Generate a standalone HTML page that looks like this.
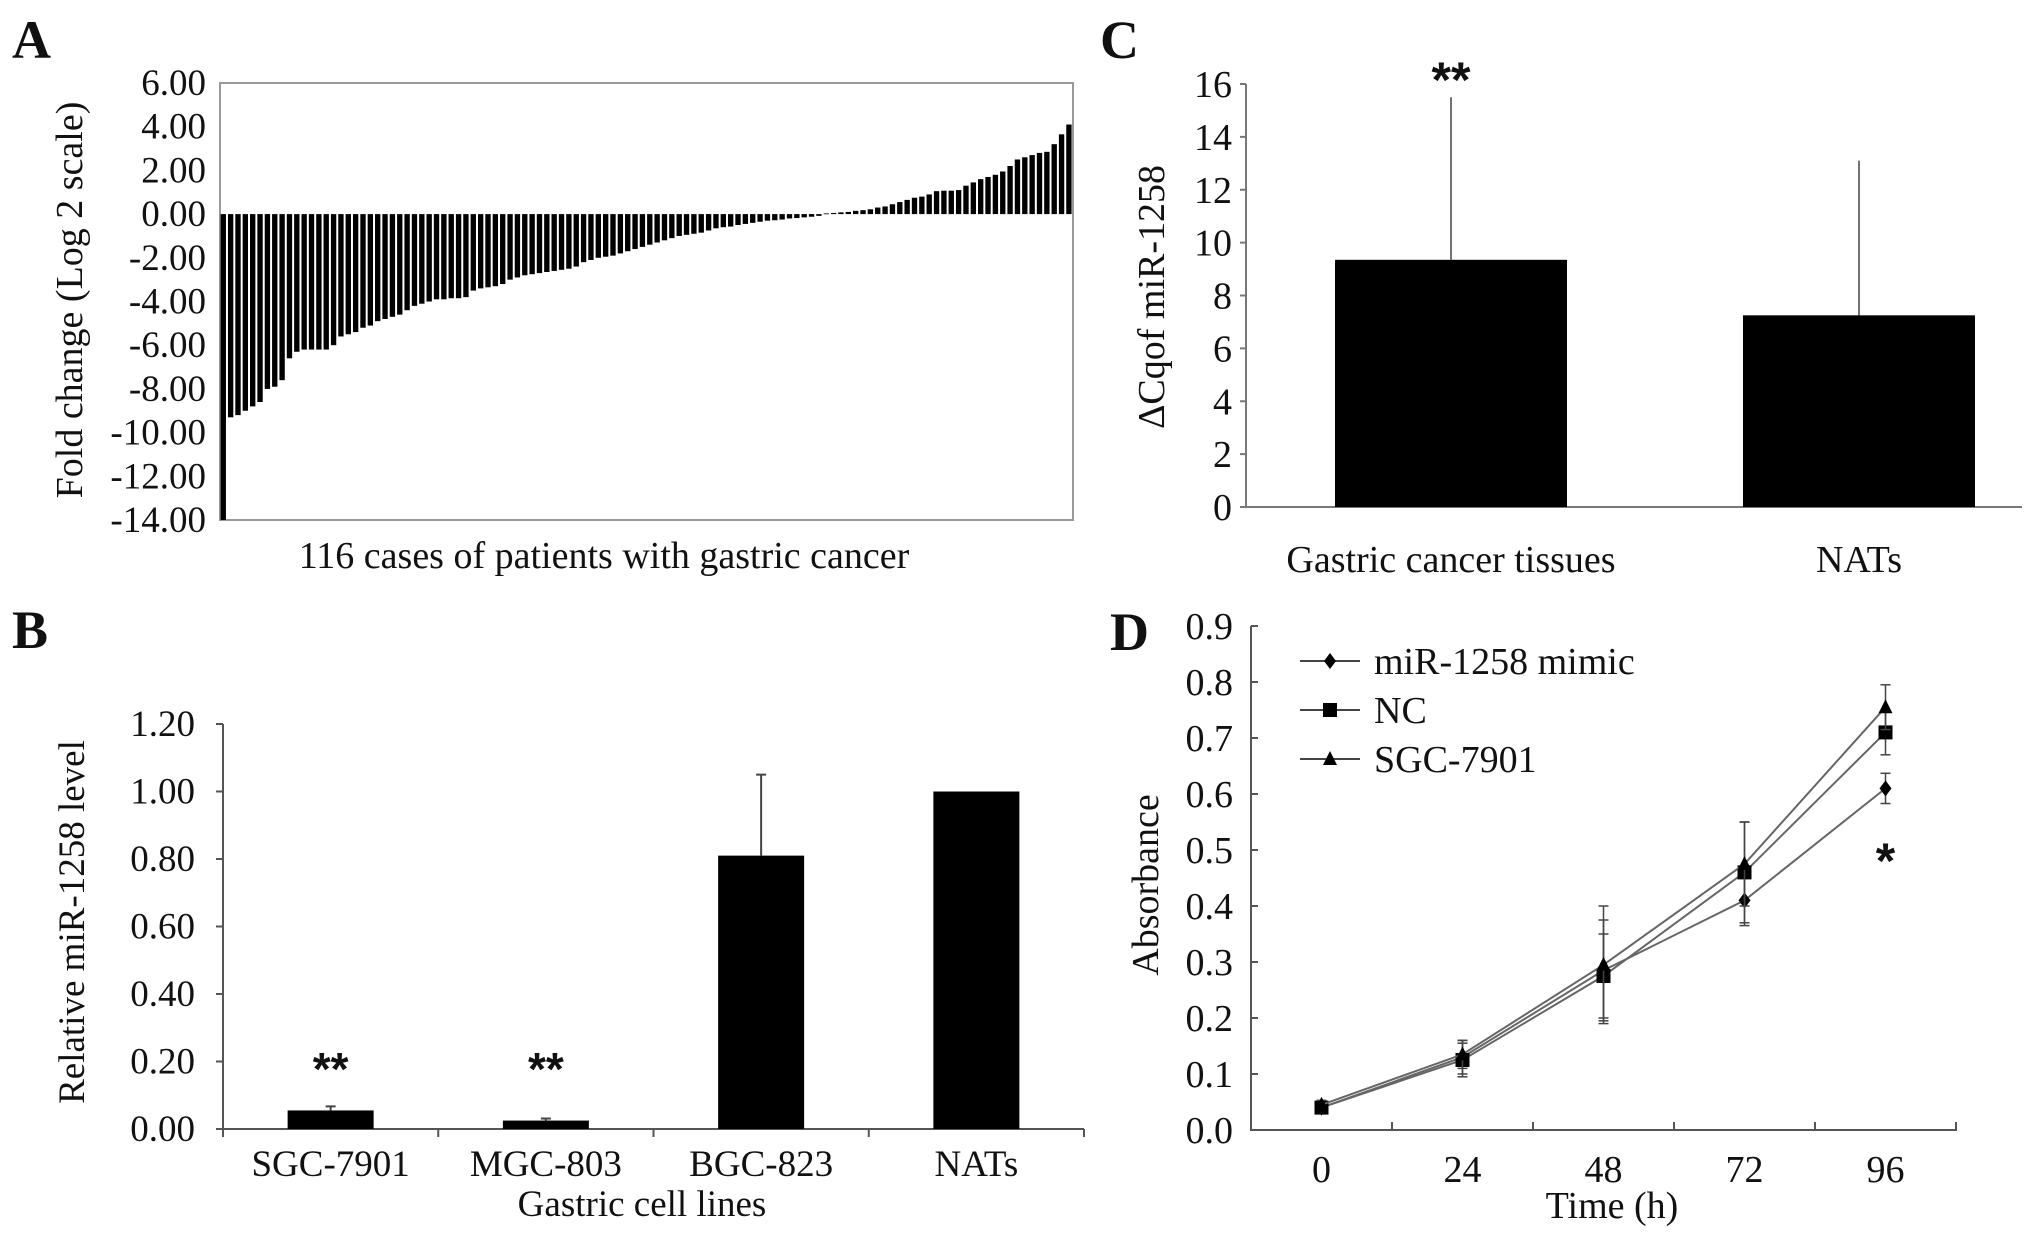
<!DOCTYPE html>
<html><head><meta charset="utf-8">
<style>
html,body{margin:0;padding:0;background:#fff;}
svg{display:block;font-family:"Liberation Serif",serif;}
text{fill:#111;}
</style></head>
<body>
<svg id="fig" width="2031" height="1239" viewBox="0 0 2031 1239" xmlns="http://www.w3.org/2000/svg">
<text x="12" y="58" font-size="54" font-weight="bold">A</text>
<text x="12" y="648" font-size="54" font-weight="bold">B</text>
<text x="1100" y="58" font-size="54" font-weight="bold">C</text>
<text x="1110" y="650" font-size="54" font-weight="bold">D</text>
<g id="pa"></g>
<g id="pb"></g>
<g id="pc"></g>
<g id="pd"></g>
</svg>
<script>
// ---------- Panel A data ----------
const aValues = [-14.0,-9.3,-9.2,-9.0,-8.8,-8.6,-8.0,-7.9,-7.6,
-6.6,-6.3,-6.2,-6.2,-6.2,-6.2,-6.0,
-5.6,-5.5,-5.4,-5.2,
-5.1,-4.9,-4.8,-4.7,
-4.6,-4.4,-4.2,-4.1,-4.0,
-3.9,-3.9,-3.85,-3.85,-3.8,
-3.5,-3.4,-3.35,-3.3,-3.2,
-3.0,-2.9,-2.8,-2.75,-2.7,
-2.65,-2.6,-2.55,-2.5,-2.4,
-2.2,-2.1,-2.0,-1.95,-1.9,
-1.8,-1.7,-1.6,-1.5,-1.4,
-1.3,-1.2,-1.1,-1.0,-0.95,
-0.9,-0.85,-0.75,-0.65,-0.6,
-0.57,-0.5,-0.45,-0.4,-0.35,
-0.3,-0.28,-0.25,-0.2,-0.18,
-0.15,-0.12,-0.08,0.03,0.05,
0.08,0.1,0.15,0.18,0.22,
0.3,0.35,0.45,0.55,0.65,
0.75,0.8,0.9,1.05,1.07,
1.07,1.1,1.3,1.45,1.6,
1.7,1.8,1.95,2.2,2.5,
2.6,2.7,2.8,2.85,3.2,
3.65,4.1];
const aTicks = [6,4,2,0,-2,-4,-6,-8,-10,-12,-14];
const aTickLabels = ["6.00","4.00","2.00","0.00","-2.00","-4.00","-6.00","-8.00","-10.00","-12.00","-14.00"];
// ---------- Panel B data ----------
const bCategories = ["SGC-7901","MGC-803","BGC-823","NATs"];
const bValues = [0.055,0.025,0.81,1.0];
const bErrors = [0.012,0.006,0.24,0];
const bStars = ["**","**","",""];
const bTicks = [0,0.2,0.4,0.6,0.8,1.0,1.2];
const bTickLabels = ["0.00","0.20","0.40","0.60","0.80","1.00","1.20"];
// ---------- Panel C data ----------
const cCategories = ["Gastric cancer tissues","NATs"];
const cValues = [9.35,7.25];
const cErrors = [6.15,5.85];
const cStars = ["**",""];
const cTicks = [0,2,4,6,8,10,12,14,16];
// ---------- Panel D data ----------
const dTimes = ["0","24","48","72","96"];
const dMimic = [0.04,0.13,0.285,0.41,0.61];
const dNC = [0.04,0.125,0.275,0.46,0.71];
const dSGC = [0.045,0.135,0.295,0.475,0.755];
const dMimicErr = [0.008,0.03,0.09,0.045,0.027];
const dNCErr = [0.008,0.03,0.075,0.09,0.04];
const dSGCErr = [0.008,0.025,0.105,0.075,0.04];
const dTicks = [0,0.1,0.2,0.3,0.4,0.5,0.6,0.7,0.8,0.9];
const dTickLabels = ["0.0","0.1","0.2","0.3","0.4","0.5","0.6","0.7","0.8","0.9"];

const NS="http://www.w3.org/2000/svg";
function mk(parent,tag,attrs,txt){const e=document.createElementNS(NS,tag);for(const k in attrs)e.setAttribute(k,attrs[k]);if(txt!==undefined)e.textContent=txt;parent.appendChild(e);return e;}

// ---------- Panel A ----------
(function(){
  const g=document.getElementById('pa');
  const L=220,R=1073,T=83,B=520,vmin=-14,vmax=6;
  const y=v=>T+(vmax-v)/(vmax-vmin)*(B-T);
  const bw=(R-L)/aValues.length;
  const x=i=>L+i*bw;
  let fr=mk(g,'rect',{x:L,y:T,width:R-L,height:B-T,fill:'none',stroke:'#999','stroke-width':2});
  
  
  aValues.forEach((v,i)=>{
    const y0=y(0),y1=y(v);
    const r=mk(g,'rect',{x:x(i)+0.6,y:Math.min(y0,y1),width:bw-2,height:Math.max(Math.abs(y1-y0),0.8),fill:'#000'});
    
    
  });
  aTicks.forEach((t,i)=>{
    const tx=mk(g,'text',{x:206,y:y(t)+12,'font-size':37,'text-anchor':'end'},aTickLabels[i]);
    
    
  });
  const yl=mk(g,'text',{x:0,y:0,'font-size':38,'text-anchor':'middle',transform:'translate(82,300) rotate(-90)'},'Fold change (Log 2 scale)');
  
  
  const xl=mk(g,'text',{x:604,y:568,'font-size':38,'text-anchor':'middle'},'116 cases of patients with gastric cancer');
  
  
})();

// ---------- Panel B ----------
(function(){
  const g=document.getElementById('pb');
  const L=223,R=1084,T=724,B=1129,vmax=1.2;
  const y=v=>B-v/vmax*(B-T);
  const band=(R-L)/bCategories.length;
  let a=mk(g,'path',{d:`M${L} ${T}V${B}H${R}`,fill:'none',stroke:'#555','stroke-width':2});
  
  
  for(let i=0;i<=bCategories.length;i++){mk(g,'line',{x1:L+i*band,x2:L+i*band,y1:B,y2:B+8,stroke:'#555','stroke-width':2});}
  bTicks.forEach((t,i)=>{
    mk(g,'line',{x1:L-7,x2:L,y1:y(t),y2:y(t),stroke:'#555','stroke-width':2});
    const tx=mk(g,'text',{x:195,y:y(t)+12,'font-size':37,'text-anchor':'end'},bTickLabels[i]);
    
    
  });
  bCategories.forEach((c,i)=>{
    const cx=L+band*(i+0.5),w=86;
    const r=mk(g,'rect',{x:cx-w/2,y:y(bValues[i]),width:w,height:B-y(bValues[i]),fill:'#000'});
    
    
    if(bErrors[i]>0){
      const ye=y(bValues[i]+bErrors[i]);
      mk(g,'line',{x1:cx,x2:cx,y1:y(bValues[i]),y2:ye,stroke:'#444','stroke-width':2});
      mk(g,'line',{x1:cx-5,x2:cx+5,y1:ye,y2:ye,stroke:'#444','stroke-width':2});
    }
    if(bStars[i]){
      const s=mk(g,'text',{x:cx,y:1085,'font-size':46,'font-weight':'bold','text-anchor':'middle','font-family':'Liberation Sans, sans-serif'},bStars[i]);
      
      
    }
    const t=mk(g,'text',{x:cx,y:1176,'font-size':37,'text-anchor':'middle'},c);
    
    
  });
  const xl=mk(g,'text',{x:642,y:1216,'font-size':37,'text-anchor':'middle'},'Gastric cell lines');
  
  
  const yl=mk(g,'text',{x:0,y:0,'font-size':37,'text-anchor':'middle',transform:'translate(84,922) rotate(-90)'},'Relative miR-1258 level');
  
  
})();

// ---------- Panel C ----------
(function(){
  const g=document.getElementById('pc');
  const L=1246,R=2022,T=84,B=507,vmax=16;
  const y=v=>B-v/vmax*(B-T);
  const centers=[1451,1859],w=232;
  let a=mk(g,'path',{d:`M${L} ${T}V${B}H${R}`,fill:'none',stroke:'#777','stroke-width':2});
  
  
  cTicks.forEach(t=>{
    mk(g,'line',{x1:L-6,x2:L,y1:y(t),y2:y(t),stroke:'#777','stroke-width':2});
    const tx=mk(g,'text',{x:1232,y:y(t)+13,'font-size':38,'text-anchor':'end'},String(t));
    
    
  });
  cCategories.forEach((c,i)=>{
    const cx=centers[i];
    const r=mk(g,'rect',{x:cx-w/2,y:y(cValues[i]),width:w,height:B-y(cValues[i]),fill:'#000'});
    
    
    mk(g,'line',{x1:cx,x2:cx,y1:y(cValues[i]),y2:y(cValues[i]+cErrors[i]),stroke:'#444','stroke-width':1.5});
    if(cStars[i]){
      const s=mk(g,'text',{x:cx,y:97,'font-size':50,'font-weight':'bold','text-anchor':'middle','font-family':'Liberation Sans, sans-serif'},cStars[i]);
      
      
    }
    const t=mk(g,'text',{x:cx,y:572,'font-size':38,'text-anchor':'middle'},c);
    
    
  });
  const yl=mk(g,'text',{x:0,y:0,'font-size':38,'text-anchor':'middle',transform:'translate(1164,297) rotate(-90)'},'ΔCqof miR-1258');
  
  
})();

// ---------- Panel D ----------
(function(){
  const g=document.getElementById('pd');
  const L=1251,R=1956,T=626,B=1130,vmax=0.9;
  const y=v=>B-v/vmax*(B-T);
  const band=(R-L)/dTimes.length;
  const x=i=>L+band*(i+0.5);
  let a=mk(g,'path',{d:`M${L} ${T}V${B}H${R}V${B-8}`,fill:'none',stroke:'#555','stroke-width':2});
  
  
  for(let i=1;i<dTimes.length;i++){mk(g,'line',{x1:L+i*band,x2:L+i*band,y1:B,y2:B-8,stroke:'#555','stroke-width':2});}
  dTicks.forEach((t,i)=>{
    mk(g,'line',{x1:L,x2:L+7,y1:y(t),y2:y(t),stroke:'#555','stroke-width':2});
    const tx=mk(g,'text',{x:1233,y:y(t)+13,'font-size':38,'text-anchor':'end'},dTickLabels[i]);
    
    
  });
  dTimes.forEach((t,i)=>{
    const tx=mk(g,'text',{x:x(i),y:1182,'font-size':38,'text-anchor':'middle'},t);
    
    
  });
  const series=[[dMimic,dMimicErr,'diamond','miR-1258 mimic'],[dNC,dNCErr,'square','NC'],[dSGC,dSGCErr,'triangle','SGC-7901']];
  function marker(par,cx,cy,type){
    if(type==='diamond')return mk(par,'path',{d:`M${cx} ${cy-8}L${cx+6} ${cy}L${cx} ${cy+8}L${cx-6} ${cy}Z`,fill:'#000'});
    if(type==='square')return mk(par,'rect',{x:cx-7,y:cy-7,width:14,height:14,fill:'#000'});
    return mk(par,'path',{d:`M${cx} ${cy-8}L${cx+7} ${cy+6}L${cx-7} ${cy+6}Z`,fill:'#000'});
  }
  series.forEach((s,si)=>{
    const [vals,errs,type,name]=s;
    const sg=mk(g,'g',{});
    
    
    const pts=vals.map((v,i)=>x(i)+','+y(v)).join(' ');
    mk(sg,'polyline',{points:pts,fill:'none',stroke:'#666','stroke-width':2});
    vals.forEach((v,i)=>{
      const cx=x(i);
      mk(sg,'line',{x1:cx,x2:cx,y1:y(v-errs[i]),y2:y(v+errs[i]),stroke:'#444','stroke-width':1.5});
      mk(sg,'line',{x1:cx-5,x2:cx+5,y1:y(v-errs[i]),y2:y(v-errs[i]),stroke:'#444','stroke-width':1.5});
      mk(sg,'line',{x1:cx-5,x2:cx+5,y1:y(v+errs[i]),y2:y(v+errs[i]),stroke:'#444','stroke-width':1.5});
      const m=marker(sg,cx,y(v),type);
      
      
    });
    const ly=661+si*49;
    const lg=mk(g,'g',{});
    
    
    mk(lg,'line',{x1:1300,x2:1360,y1:ly,y2:ly,stroke:'#444','stroke-width':2});
    marker(lg,1330,ly,type);
    mk(lg,'text',{x:1374,y:ly+13,'font-size':38},name);
  });
  const st=mk(g,'text',{x:x(4),y:878,'font-size':50,'font-weight':'bold','text-anchor':'middle','font-family':'Liberation Sans, sans-serif'},'*');
  
  
  const xl=mk(g,'text',{x:1612,y:1218,'font-size':38,'text-anchor':'middle'},'Time (h)');
  
  
  const yl=mk(g,'text',{x:0,y:0,'font-size':38,'text-anchor':'middle',transform:'translate(1158,885) rotate(-90)'},'Absorbance');
  
  
})();
</script>
</body></html>
